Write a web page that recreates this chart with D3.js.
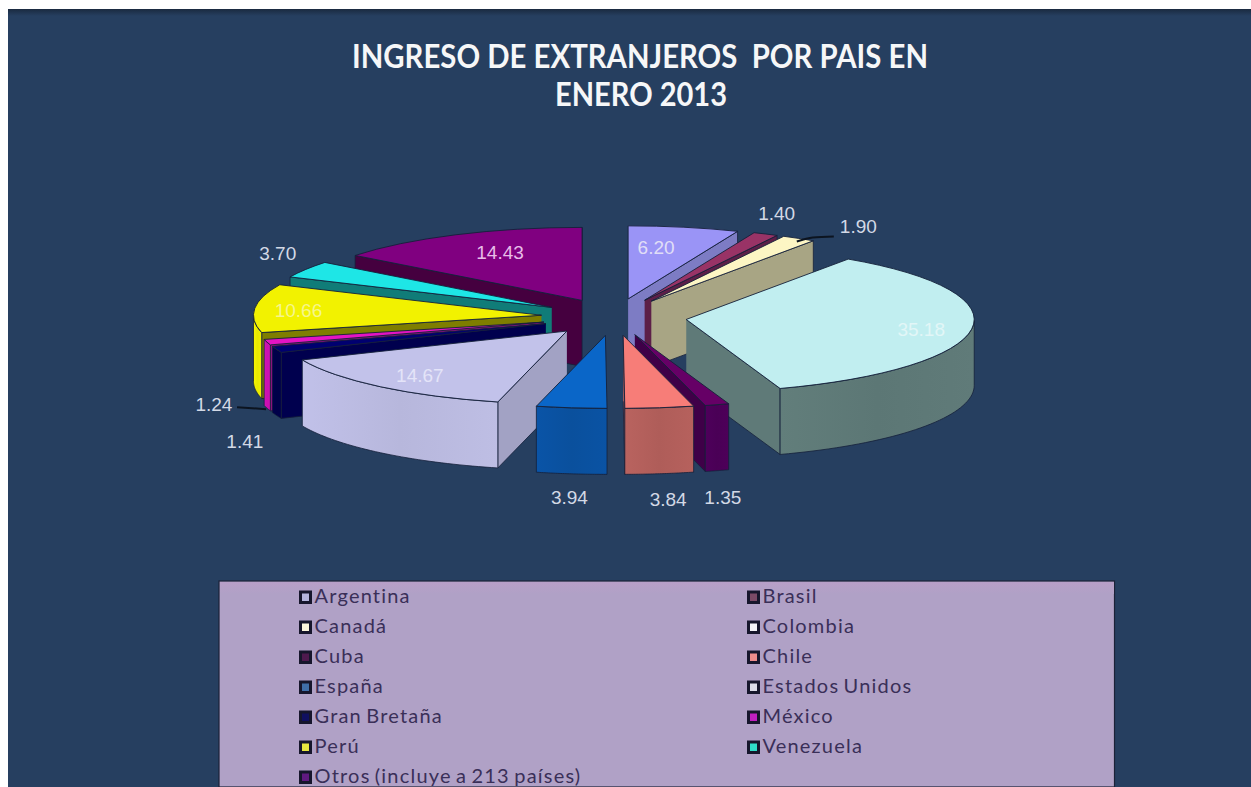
<!DOCTYPE html>
<html><head><meta charset="utf-8">
<script src="https://cdnjs.cloudflare.com/ajax/libs/d3/7.8.5/d3.min.js"></script>
<style>html,body{margin:0;padding:0;background:#fff;overflow:hidden}svg{display:block}</style>
</head><body><div id="chart"></div>
<script>
const categories = ["Argentina","Brasil","Canadá","Colombia","Cuba","Chile","España","Estados Unidos","Gran Bretaña","México","Perú","Venezuela","Otros (incluye a 213 países)"];
const values = [6.20,1.40,1.90,35.18,1.35,3.84,3.94,14.67,1.41,1.24,10.66,3.70,14.43];
const titleLines = ["INGRESO DE EXTRANJEROS  POR PAIS EN","ENERO 2013"];

// styling
const topColors = ["#9a94f6","#993366","#fdf6c4","#c1eef0","#660066","#f77d78","#0a66c8","#c2c2ea","#000070","#e414c4","#f2f200","#1ee6e6","#800080"];
const wallColors = ["#7d7cc4","#5c1f48","#a8a584","#5f7a78","#3f0048","#b4605c","#0a52a2","#a2a2c4","#00004e","#a8108e","#7e7e00","#107c78","#45003f"];
const outerColors = ["#7d7cc4","#5c1f48","#a8a584","#5f7a78","#4c0058","#b4605c","#0a52a2","#bcbce2","#00004a","#d010b4","#efef00","#107c78","#45003f"];
const swatchColors = ["#b4b4dc","#7a4a66","#fbf6dc","#f4f4f8","#4e1a4e","#ec8c8c","#3f6ea8","#dcdce8","#101060","#c020c0","#e6e640","#30dcc8","#601a80"];
const labelColors = ["#e0def6","#d3d9e6","#d3d9e6","#e2f6f7","#d3d9e6","#d3d9e6","#d3d9e6","#e4e4f8","#d3d9e6","#d3d9e6","#f6f68c","#d3d9e6","#e8bce8"];
// label placement relative to each exploded slice's apex
const labelOffsets = [[28,-50],[132,-85],[207,-73],[235,12],[88,164],[45,166],[-36,164],[-147,46],[-301,119],[-330,84],[-243,-3],[-274,-52],[-82,-46]];

const W = 1251, H = 787;
const svg = d3.select("#chart").append("svg").attr("width",W).attr("height",H);
const defs = svg.append("defs");

svg.append("rect").attr("x",8).attr("y",9).attr("width",W-8).attr("height",H-9).attr("fill","#263f60");
const rim = defs.append("linearGradient").attr("id","rim").attr("x1",0).attr("x2",0).attr("y1",0).attr("y2",1);
rim.append("stop").attr("offset",0).attr("stop-color","#1a2a40");
rim.append("stop").attr("offset",1).attr("stop-color","#263f60");
svg.append("rect").attr("x",8).attr("y",9).attr("width",W-8).attr("height",7).attr("fill","url(#rim)");

// title
const titleFont = "Lato, 'Open Sans', sans-serif";
const titleG = svg.append("g").attr("font-family",titleFont).attr("font-weight",700).attr("font-size",33).attr("fill","#f6f7f8");
titleG.append("text").attr("x",352).attr("y",68).attr("textLength",576).attr("lengthAdjust","spacingAndGlyphs").attr("xml:space","preserve").text(titleLines[0]);
titleG.append("text").attr("x",555).attr("y",106).attr("textLength",172).attr("lengthAdjust","spacingAndGlyphs").text(titleLines[1]);

// pie geometry
const cx = 614, cy = 317, R = 288, squash = 0.2535, depth = 66, explode = 0.253;
const pie = d3.pie().sort(null).value(d => d.v);
const slices = pie(values.map((v,i)=>({v,i,name:categories[i]})));
const arc = d3.arc().innerRadius(0).outerRadius(R);
const apexOf = s => {
  const m = (s.startAngle+s.endAngle)/2;
  return [cx + explode*R*Math.sin(m), cy - explode*R*squash*Math.cos(m)];
};
const rimPoint = (a,ang,h=0) => [a[0]+R*Math.sin(ang), a[1]-R*squash*Math.cos(ang)+h];
const line = d3.line();
const stroke = "#14203a";

const order = slices.slice().sort((p,q)=> -Math.cos((p.startAngle+p.endAngle)/2) + Math.cos((q.startAngle+q.endAngle)/2));
const g = svg.append("g");

order.forEach(s=>{
  const i = s.data.i, a = apexOf(s);
  const el = g.append("g").attr("class","slice").attr("data-name",s.data.name);
  const wall = (ang) => {
    const p = rimPoint(a,ang);
    el.append("path").attr("d",line([a,p,[p[0],p[1]+depth],[a[0],a[1]+depth]]))
      .attr("fill",wallColors[i]).attr("stroke",stroke).attr("stroke-width",.8).attr("stroke-linejoin","round");
  };
  if (Math.sin(s.startAngle) < 0) wall(s.startAngle);
  if (Math.sin(s.endAngle) > 0) wall(s.endAngle);
  const a0 = Math.max(s.startAngle,Math.PI/2), a1 = Math.min(s.endAngle,Math.PI*1.5);
  if (a1 > a0) {
    const n = 40, up = d3.range(n+1).map(k=>rimPoint(a,a0+(a1-a0)*k/n));
    const down = up.slice().reverse().map(p=>[p[0],p[1]+depth]);
    const id = "wall"+i;
    const gr = defs.append("linearGradient").attr("id",id);
    const base = d3.color(outerColors[i]);
    [[0,base.brighter(.08)],[.5,base.darker(.08)],[1,base.brighter(.03)]].forEach(([o,c])=>gr.append("stop").attr("offset",o).attr("stop-color",c));
    el.append("path").attr("d",line(up.concat(down))+"Z").attr("fill",`url(#${id})`)
      .attr("stroke",stroke).attr("stroke-width",.8);
  }
  el.append("path").attr("d",arc(s))
    .attr("transform",`translate(${a[0]},${a[1]}) scale(1,${squash})`)
    .attr("fill",topColors[i]).attr("stroke",stroke).attr("stroke-width",.9).attr("vector-effect","non-scaling-stroke");
});

// data labels
slices.forEach(s=>{
  const i = s.data.i, a = apexOf(s);
  svg.append("text").attr("x",a[0]+labelOffsets[i][0]).attr("y",a[1]+labelOffsets[i][1])
    .attr("text-anchor","middle").attr("dominant-baseline","middle")
    .attr("font-family","'Liberation Sans',Arial,sans-serif").attr("font-size",19)
    .attr("fill",labelColors[i]).text(values[i].toFixed(2));
});

// leader lines
const leader = (pts)=>svg.append("path").attr("d",d3.line().curve(d3.curveMonotoneX)(pts)).attr("fill","none").attr("stroke","#0c1420").attr("stroke-width",2);
const can = rimPoint(apexOf(slices[2]),(slices[2].startAngle+slices[2].endAngle)/2);
leader([[can[0]-2,can[1]+3],[can[0]+14,can[1]-1],[can[0]+35,can[1]-2]]);
const mex = rimPoint(apexOf(slices[9]),(slices[9].startAngle+slices[9].endAngle)/2,depth);
leader([[mex[0]-30,mex[1]-1],[mex[0]-1,mex[1]+1]]);

// legend
const lg = svg.append("g");
const band = defs.append("linearGradient").attr("id","band").attr("x1",0).attr("x2",0).attr("y1",0).attr("y2",1);
band.append("stop").attr("offset",0).attr("stop-color","#b89fc8");
band.append("stop").attr("offset",1).attr("stop-color","#b0a1c6");
lg.append("rect").attr("x",219).attr("y",581).attr("width",895.5).attr("height",H-581).attr("fill","#b0a1c6").attr("stroke","#1c2238").attr("stroke-width",1.2);
lg.append("rect").attr("x",220).attr("y",582).attr("width",894).attr("height",12).attr("fill","url(#band)");
const nCols = 2, colX = [299,747], rowY0 = 597, rowH = 30;
const items = lg.selectAll("g.item").data(categories).join("g").attr("class","item")
  .attr("transform",(d,i)=>`translate(${colX[i%nCols]},${rowY0+rowH*Math.floor(i/nCols)})`);
items.append("rect").attr("x",1.5).attr("y",-5).attr("width",10).attr("height",10.5)
  .attr("fill",(d,i)=>swatchColors[i]).attr("stroke","#16162c").attr("stroke-width",3);
items.append("text").attr("x",15.5).attr("y",1).attr("dominant-baseline","middle")
  .attr("font-family","Lato,'Open Sans',sans-serif").attr("font-size",20).attr("letter-spacing",1.2).attr("word-spacing",-2)
  .attr("fill","#3a2f58").text(d=>d);
</script></body></html>
